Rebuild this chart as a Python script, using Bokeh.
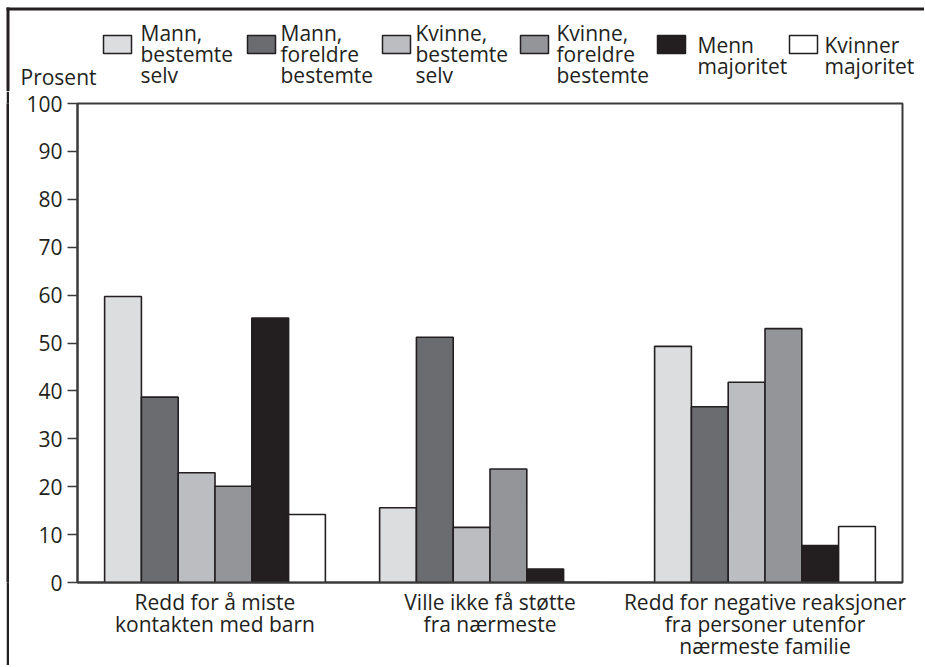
from bokeh.plotting import figure
from bokeh.models import Range1d, FixedTicker, ColumnDataSource, Spacer
from bokeh.layouts import column, row
from bokeh.embed import file_html
from bokeh.resources import INLINE
from bokeh.core.properties import value

# ---------------- data ----------------
categories = [
    "Redd for å miste\nkontakten med barn",
    "Ville ikke få støtte\nfra nærmeste",
    "Redd for negative reaksjoner\nfra personer utenfor\nnærmeste familie",
]
series_labels = [
    "Mann,\nbestemte\nselv",
    "Mann,\nforeldre\nbestemte",
    "Kvinne,\nbestemte\nselv",
    "Kvinne,\nforeldre\nbestemte",
    "Menn\nmajoritet",
    "Kvinner\nmajoritet",
]
mann_bestemte_selv = [59.7, 15.6, 49.3]
mann_foreldre_bestemte = [38.7, 51.2, 36.7]
kvinne_bestemte_selv = [22.9, 11.5, 41.8]
kvinne_foreldre_bestemte = [20.1, 23.7, 53.0]
menn_majoritet = [55.2, 2.8, 7.7]
kvinner_majoritet = [14.2, 0.0, 11.7]
y_ticks = [0, 10, 20, 30, 40, 50, 60, 70, 80, 90, 100]
y_label = "Prosent"

series_values = [mann_bestemte_selv, mann_foreldre_bestemte, kvinne_bestemte_selv,
                 kvinne_foreldre_bestemte, menn_majoritet, kvinner_majoritet]
colors = ["#dcdddf", "#6b6c70", "#bcbdc1", "#939598", "#231f20", "#ffffff"]

FONT = "Open Sans"
FS = "21px"
INK = "#231f20"
FRAME = "#3a3a3a"

TW = 924      # total width
H1 = 91       # legend strip height
H2 = 574      # main chart height
SW = 9        # left margin incl. frame line


def blank(fig):
    fig.grid.visible = False
    fig.outline_line_color = None
    fig.background_fill_color = "white"
    fig.border_fill_color = "white"


# ---------------- legend strip (pixel coordinates) ----------------
leg = figure(width=TW, height=H1, x_range=Range1d(0, TW), y_range=Range1d(H1, 0),
             output_backend="svg", toolbar_location=None,
             x_axis_location=None, y_axis_location=None, min_border=0)
blank(leg)
# outer frame: top and left edges
leg.quad(left=[6, 6], right=[TW, 9], top=[7, 7], bottom=[10, H1],
         fill_color=INK, line_color=None)

sw_left = [103, 247, 382, 520, 657, 789]
txt_left = [140, 280, 415, 556, 697, 824]
first_base = [32, 32, 32, 32, 44, 44]
leg.quad(left=sw_left, right=[v + 28 for v in sw_left], top=[35] * 6, bottom=[53] * 6,
         fill_color=colors, line_color=INK, line_width=1.5)
tx, ty, tt = [], [], []
for i, lab in enumerate(series_labels):
    for k, line in enumerate(lab.split("\n")):
        tx.append(txt_left[i])
        ty.append(first_base[i] + 21 * k)
        tt.append(line)
tx.append(20)
ty.append(76)
tt.append(y_label)
leg.text(x=tx, y=ty, text=tt, text_font=value(FONT), text_font_size=FS,
         text_color=INK, text_baseline="alphabetic", text_align="left")

# ---------------- left frame line (continues down the page) ----------------
strip = figure(width=3, height=H2, x_range=Range1d(0, 1), y_range=Range1d(0, 1),
               output_backend="svg", toolbar_location=None,
               x_axis_location=None, y_axis_location=None, min_border=0)
strip.grid.visible = False
strip.outline_line_color = None
strip.background_fill_color = INK
strip.border_fill_color = INK

# ---------------- main chart ----------------
p = figure(width=TW - SW, height=H2, x_range=Range1d(0, 3), y_range=Range1d(0, 100),
           output_backend="svg", toolbar_location=None,
           min_border_left=68, min_border_right=22, min_border_top=12, min_border_bottom=83)
p.grid.visible = False
p.outline_line_color = FRAME
p.outline_line_width = 2
p.background_fill_color = "white"
p.border_fill_color = "white"

bw = 0.1338
for i, vals in enumerate(series_values):
    xs = [g + 0.5 + (i - 2.5) * bw for g in range(len(categories))]
    src = ColumnDataSource(dict(x=xs, top=vals))
    p.vbar(x="x", top="top", width=bw, source=src, fill_color=colors[i],
           line_color=INK, line_width=1.6)

ya = p.yaxis[0]
ya.ticker = FixedTicker(ticks=y_ticks)
ya.major_tick_in = 0
ya.major_tick_out = 10
ya.minor_tick_in = 0
ya.minor_tick_out = 0
ya.major_tick_line_color = FRAME
ya.major_tick_line_width = 1.5
ya.axis_line_color = FRAME
ya.axis_line_width = 2
ya.major_label_standoff = 5
ya.major_label_text_font = FONT
ya.major_label_text_font_size = FS
ya.major_label_text_color = INK
ya.major_label_text_line_height = 0.8

xa = p.xaxis[0]
xa.ticker = FixedTicker(ticks=[0.5, 1.5, 2.5])
xa.major_label_overrides = {0.5: categories[0], 1.5: categories[1], 2.5: categories[2]}
xa.major_tick_in = 0
xa.major_tick_out = 0
xa.minor_tick_in = 0
xa.minor_tick_out = 0
xa.axis_line_color = FRAME
xa.axis_line_width = 2
xa.major_label_standoff = 5
xa.major_label_text_font = FONT
xa.major_label_text_font_size = FS
xa.major_label_text_color = INK
xa.major_label_text_line_height = 0.8

layout = column(leg, row(Spacer(width=6, height=H2), strip, p))

open("out.html", "w").write(file_html(layout, INLINE))
